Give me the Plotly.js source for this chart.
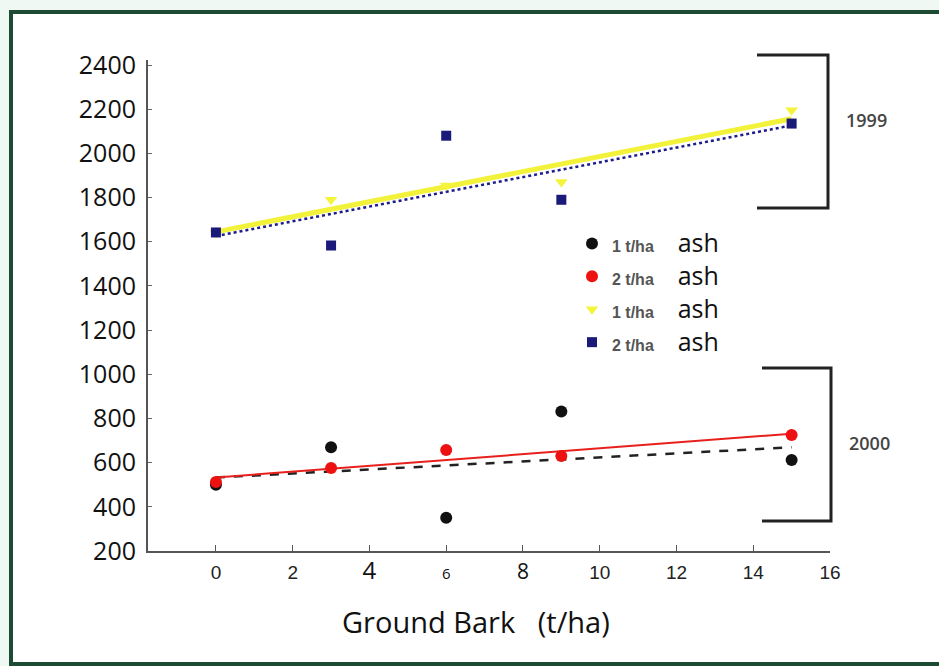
<!DOCTYPE html>
<html>
<head>
<meta charset="utf-8">
<script src="https://cdn.plot.ly/plotly-3.0.1.min.js"></script>
<style>html,body{margin:0;padding:0;background:#f0f8f3;}#chart{width:939px;height:666px;}</style>
</head>
<body>
<div id="chart"></div>
<script>
// ---- data ----
const barkX = [0, 3, 6, 9, 15];
const ash1_2000 = [500, 670, 350, 832, 612];
const ash2_2000 = [512, 576, 657, 630, 725];
const ash1_1999 = [1640, 1790, 1855, 1870, 2195];
const ash2_1999 = [1642, 1583, 2080, 1790, 2135];
const seriesNames = ["1 t/ha", "2 t/ha", "1 t/ha", "2 t/ha"];
const xTickVals = [0, 2, 4, 6, 8, 10, 12, 14, 16];
const yTickVals = [200, 400, 600, 800, 1000, 1200, 1400, 1600, 1800, 2000, 2200, 2400];
const groupLabels = ["1999", "2000"];

// ---- layout geometry (pixels) ----
const W = 939, H = 666;
const L = 148, R = 830, T = 60, B = 551;
const px = X => (X - L) / (R - L);
const py = Y => (B - Y) / (B - T);

function fit(xs, ys) {
  const n = xs.length;
  const mx = xs.reduce((a, b) => a + b, 0) / n;
  const my = ys.reduce((a, b) => a + b, 0) / n;
  let sxy = 0, sxx = 0;
  for (let i = 0; i < n; i++) { sxy += (xs[i] - mx) * (ys[i] - my); sxx += (xs[i] - mx) ** 2; }
  const b = sxy / sxx, a = my - b * mx;
  const x0 = Math.min(...xs), x1 = Math.max(...xs);
  return { x: [x0, x1], y: [a + b * x0, a + b * x1] };
}

const fY1 = fit(barkX, ash1_1999), fY2 = fit(barkX, ash2_1999);
const f01 = fit(barkX, ash1_2000), f02 = fit(barkX, ash2_2000);

const legName = n => "<span style='font-size:16px;font-weight:bold;color:#555;font-family:Arial'>" + n +
  "</span> \u00a0 \u00a0<span style='font-size:25px'>ash</span>";

const traces = [
  { x: fY1.x, y: fY1.y, mode: "lines", line: { color: "#f2f23a", width: 5 }, showlegend: false, hoverinfo: "skip" },
  { x: fY2.x, y: fY2.y, mode: "lines", line: { color: "#1c1c8a", width: 2.5, dash: "dot" }, showlegend: false, hoverinfo: "skip" },
  { x: f01.x, y: f01.y, mode: "lines", line: { color: "#222", width: 2.5, dash: "dash" }, showlegend: false, hoverinfo: "skip" },
  { x: f02.x, y: f02.y, mode: "lines", line: { color: "#e8201c", width: 2 }, showlegend: false, hoverinfo: "skip" },
  { x: barkX, y: ash1_2000, mode: "markers", name: legName(seriesNames[0]), legendgroup: "a",
    marker: { symbol: "circle", color: "#111", size: 12 } },
  { x: barkX, y: ash2_2000, mode: "markers", name: legName(seriesNames[1]), legendgroup: "b",
    marker: { symbol: "circle", color: "#ee1111", size: 12 } },
  { x: barkX, y: ash1_1999, mode: "markers", name: legName(seriesNames[2]), legendgroup: "c",
    marker: { symbol: "triangle-down", color: "#f4f43a", size: 11 } },
  { x: barkX, y: ash2_1999, mode: "markers", name: legName(seriesNames[3]), legendgroup: "d",
    marker: { symbol: "square", color: "#1a1a7a", size: 10 } }
];

const xTickText = xTickVals.map(v => {
  if (v === 4) return "<span style='font-family:Open Sans;font-size:24px;color:#111'>4</span>";
  if (v === 6) return "<span style='font-family:Open Sans;font-size:15px;color:#111'>6</span>";
  if (v === 8) return "<span style='font-family:Open Sans;font-size:21px;color:#111'>8</span>";
  return String(v);
});

const shapes = [
  { type: "rect", xref: "paper", yref: "paper", x0: px(11), x1: px(950), y0: py(664), y1: py(12),
    fillcolor: "#ffffff", line: { color: "#1d4a33", width: 4 }, layer: "below" },
  { type: "path", xref: "paper", yref: "paper",
    path: `M ${px(757)} ${py(55)} L ${px(828)} ${py(55)} L ${px(828)} ${py(208)} L ${px(757)} ${py(208)}`,
    line: { color: "#222", width: 3 } },
  { type: "path", xref: "paper", yref: "paper",
    path: `M ${px(762)} ${py(368)} L ${px(831)} ${py(368)} L ${px(831)} ${py(521)} L ${px(762)} ${py(521)}`,
    line: { color: "#222", width: 3 } }
];

const annotations = [
  { xref: "paper", yref: "paper", x: px(866), y: py(120), text: groupLabels[0], showarrow: false,
    font: { family: "Open Sans", size: 18, color: "#444", weight: 600 }, xanchor: "center", yanchor: "middle" },
  { xref: "paper", yref: "paper", x: px(869), y: py(443), text: groupLabels[1], showarrow: false,
    font: { family: "Open Sans", size: 18, color: "#444", weight: 600 }, xanchor: "center", yanchor: "middle" },
  { xref: "paper", yref: "paper", x: px(476), y: py(621), text: "Ground Bark \u00a0\u00a0(t/ha)", showarrow: false,
    font: { family: "Open Sans", size: 29, color: "#111" }, xanchor: "center", yanchor: "middle" }
];

const layout = {
  width: W, height: H,
  margin: { l: L, r: W - R, t: T, b: H - B, pad: 0 },
  paper_bgcolor: "#f0f8f3", plot_bgcolor: "rgba(0,0,0,0)",
  showlegend: true,
  legend: { x: px(572), y: py(222), xanchor: "left", yanchor: "top", bgcolor: "rgba(0,0,0,0)",
    font: { family: "Open Sans", size: 23, color: "#111" }, traceorder: "grouped", tracegroupgap: 0,
    itemwidth: 30 },
  xaxis: { range: [-1.77, 16], tickvals: xTickVals, ticktext: xTickText, ticks: "inside", ticklen: 6,
    tickcolor: "#555", showline: true, linecolor: "#555", linewidth: 2, showgrid: false, zeroline: false,
    ticklabelstandoff: 3,
    tickfont: { family: "Arial", size: 19, color: "#222" } },
  yaxis: { range: [200, 200 + (B - T) / 0.2209], tickvals: yTickVals, ticks: "inside", ticklen: 4,
    tickcolor: "#666", showline: true, linecolor: "#555", linewidth: 2, showgrid: false, zeroline: false,
    ticklabelstandoff: 5,
    tickfont: { family: "Open Sans", size: 25, color: "#111" } },
  shapes: shapes,
  annotations: annotations
};

Plotly.newPlot("chart", traces, layout, { displayModeBar: false, staticPlot: true });
</script>
</body>
</html>
